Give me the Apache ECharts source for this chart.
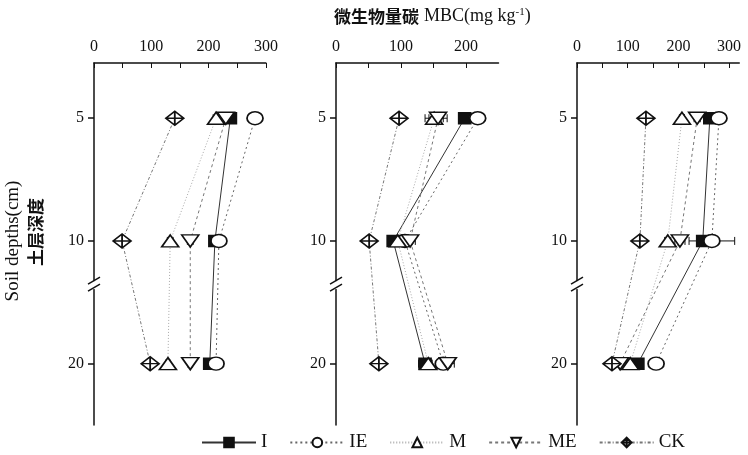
<!DOCTYPE html>
<html>
<head>
<meta charset="utf-8">
<script src="https://cdn.jsdelivr.net/npm/echarts@6/dist/echarts.min.js"></script>
<style>
    html, body { margin: 0; padding: 0; background: #fff; }
    #mbc-chart { width: 748px; height: 455px; }
</style>
</head>
<body>
<div id="mbc-chart"></div>
<script>
// soil depths (cm); plotted on slots 1..3 because the axis is broken between 10 and 20
const depths = [5, 10, 20];
const depthSlots = [1, 2, 3];
const breakSlot = 2.36;

// top x axes of the three panels
const xMax = [300, 250, 320];
const xTickLabels = [[0, 100, 200, 300], [0, 100, 200], [0, 100, 200, 300]];
const xTickMarks = [[0, 50, 100, 150, 200, 250, 300], [0, 50, 100, 150, 200], [0, 50, 100, 150, 200, 250, 300]];

// MBC (mg/kg): one row per panel, one value per depth
const mbcI  = [[238, 211, 202], [198, 88, 137], [262, 248, 120]];
const mbcIE = [[281, 218, 213], [218, 106, 165], [280, 266, 156]];
const mbcM  = [[213, 133, 129], [151, 95, 142], [207, 179, 105]];
const mbcME = [[230, 168, 168], [157, 114, 172], [237, 203, 85]];
const mbcCK = [[141, 49, 98], [97, 51, 66], [136, 124, 69]];

// error bars (+/-)
const errI  = [[4, 5, 6], [5, 4, 10], [6, 6, 5]];
const errIE = [[4, 4, 4], [5, 5, 6], [6, 45, 5]];
const errM  = [[5, 5, 4], [14, 6, 6], [5, 6, 4]];
const errME = [[4, 5, 4], [14, 8, 10], [6, 10, 4]];
const errCK = [[5, 4, 4], [4, 4, 4], [5, 4, 4]];

const treatments = ['I', 'IE', 'M', 'ME', 'CK'];
const values = { I: mbcI, IE: mbcIE, M: mbcM, ME: mbcME, CK: mbcCK };
const errors = { I: errI, IE: errIE, M: errM, ME: errME, CK: errCK };

const looks = {
    I:  { symbol: 'rect', size: [12, 11], fill: '#111', line: { color: '#333', width: 1, type: 'solid' } },
    IE: { symbol: 'circle', size: [16, 13], fill: '#fff', line: { color: '#666', width: 1, type: [2, 3] } },
    M:  { symbol: 'triangle', size: [17, 12], fill: '#fff', line: { color: '#aaa', width: 1, type: [1, 2] } },
    ME: { symbol: 'triangle', size: [17, 12], fill: '#fff', rotate: 180, line: { color: '#777', width: 1, type: [3, 3] } },
    CK: { symbol: 'path://M0,5 L6,0 L12,5 L6,10 Z M0,5 L12,5 M6,0 L6,10', size: [18, 14], fill: '#fff', line: { color: '#777', width: 1, type: [3, 2, 1, 2] } }
};

const serif = 'Liberation Serif, Times New Roman, serif';
const panelLeft = [94, 336, 577];
const pxPerUnit = [0.573, 0.65, 0.507];

const grids = [], xAxes = [], yAxes = [], series = [];
for (let p = 0; p < 3; p++) {
    grids.push({ left: panelLeft[p], top: 63, width: xMax[p] * pxPerUnit[p], height: 362 });
    xAxes.push({
        gridIndex: p, type: 'value', position: 'top', min: 0, max: xMax[p],
        axisLine: { show: true, lineStyle: { color: '#111', width: 1.5 } },
        axisTick: { show: true, inside: true, length: 5, customValues: xTickMarks[p], lineStyle: { color: '#111' } },
        axisLabel: { customValues: xTickLabels[p], margin: 8, fontFamily: serif, fontSize: 16, color: '#111' },
        splitLine: { show: false }
    });
    yAxes.push({
        gridIndex: p, type: 'value', inverse: true, min: 0.55, max: 3.5,
        axisLine: { show: true, lineStyle: { color: '#111', width: 1.5 } },
        axisTick: { show: true, inside: false, length: 6, customValues: depthSlots, lineStyle: { color: '#111', width: 1.5 } },
        axisLabel: {
            customValues: depthSlots, margin: 10, fontFamily: serif, fontSize: 16, color: '#111',
            formatter: v => depths[depthSlots.indexOf(v)]
        },
        splitLine: { show: false }
    });

    // horizontal error bars, drawn under the markers
    const errData = [];
    treatments.forEach(t => {
        values[t][p].forEach((v, i) => errData.push([v - errors[t][p][i], v + errors[t][p][i], depthSlots[i]]));
    });
    series.push({
        type: 'custom', name: 'err' + p, xAxisIndex: p, yAxisIndex: p, z: 1, silent: true,
        data: errData,
        renderItem: (params, api) => {
            const a = api.coord([api.value(0), api.value(2)]);
            const b = api.coord([api.value(1), api.value(2)]);
            const cap = 4;
            return {
                type: 'group',
                children: [
                    { type: 'line', shape: { x1: a[0], y1: a[1], x2: b[0], y2: b[1] }, style: { stroke: '#111', lineWidth: 1 } },
                    { type: 'line', shape: { x1: a[0], y1: a[1] - cap, x2: a[0], y2: a[1] + cap }, style: { stroke: '#111', lineWidth: 1 } },
                    { type: 'line', shape: { x1: b[0], y1: b[1] - cap, x2: b[0], y2: b[1] + cap }, style: { stroke: '#111', lineWidth: 1 } }
                ]
            };
        }
    });

    treatments.forEach(t => {
        const lk = looks[t];
        series.push({
            type: 'line', name: t, xAxisIndex: p, yAxisIndex: p, z: 3,
            data: values[t][p].map((v, i) => [v, depthSlots[i]]),
            symbol: lk.symbol, symbolSize: lk.size, symbolRotate: lk.rotate || 0,
            itemStyle: { color: lk.fill, borderColor: '#111', borderWidth: 1.6 },
            lineStyle: lk.line,
            emphasis: { disabled: true },
            animation: false
        });
    });
}

const chart = echarts.init(document.getElementById('mbc-chart'));
chart.setOption({
    backgroundColor: '#fff',
    animation: false,
    title: {
        left: 329, top: 2,
        text: '{cn|微生物量碳} {en|MBC(mg kg}{sup|-1}{en|)}',
        textStyle: {
            fontWeight: 'normal',
            rich: {
                cn: { fontFamily: 'Noto Sans CJK SC', fontWeight: 'bold', fontSize: 17, color: '#111' },
                en: { fontFamily: serif, fontWeight: 'normal', fontSize: 18, color: '#111' },
                sup: { fontFamily: serif, fontWeight: 'normal', fontSize: 11, color: '#111', verticalAlign: 'top', padding: [0, 0, 8, 0] }
            }
        }
    },
    legend: {
        data: treatments, left: 196, top: 428, itemWidth: 54, itemHeight: 12, itemGap: 22,
        textStyle: { fontFamily: serif, fontSize: 19, color: '#111' }
    },
    grid: grids, xAxis: xAxes, yAxis: yAxes, series: series
});

// axis break marks "//" on each y axis, plus the rotated y axis titles
const extras = [
    { type: 'text', x: 13, y: 241, rotation: Math.PI / 2,
      style: { text: 'Soil depths(cm)', fontFamily: serif, fontSize: 19, fill: '#111', align: 'center', verticalAlign: 'middle' } },
    { type: 'text', x: 36, y: 232, rotation: Math.PI / 2,
      style: { text: '土层深度', fontFamily: 'Noto Sans CJK SC', fontWeight: 'bold', fontSize: 17, fill: '#111', align: 'center', verticalAlign: 'middle' } }
];
for (let p = 0; p < 3; p++) {
    const pt = chart.convertToPixel({ gridIndex: p }, [0, breakSlot]);
    extras.push({ type: 'rect', shape: { x: pt[0] - 3, y: pt[1] - 4, width: 6, height: 8 }, style: { fill: '#fff' }, z: 10 });
    extras.push({ type: 'line', shape: { x1: pt[0] - 6, y1: pt[1] - 1, x2: pt[0] + 6, y2: pt[1] - 8 }, style: { stroke: '#111', lineWidth: 1.5 }, z: 11 });
    extras.push({ type: 'line', shape: { x1: pt[0] - 6, y1: pt[1] + 6, x2: pt[0] + 6, y2: pt[1] - 1 }, style: { stroke: '#111', lineWidth: 1.5 }, z: 11 });
}
chart.setOption({ graphic: extras });
</script>
</body>
</html>
